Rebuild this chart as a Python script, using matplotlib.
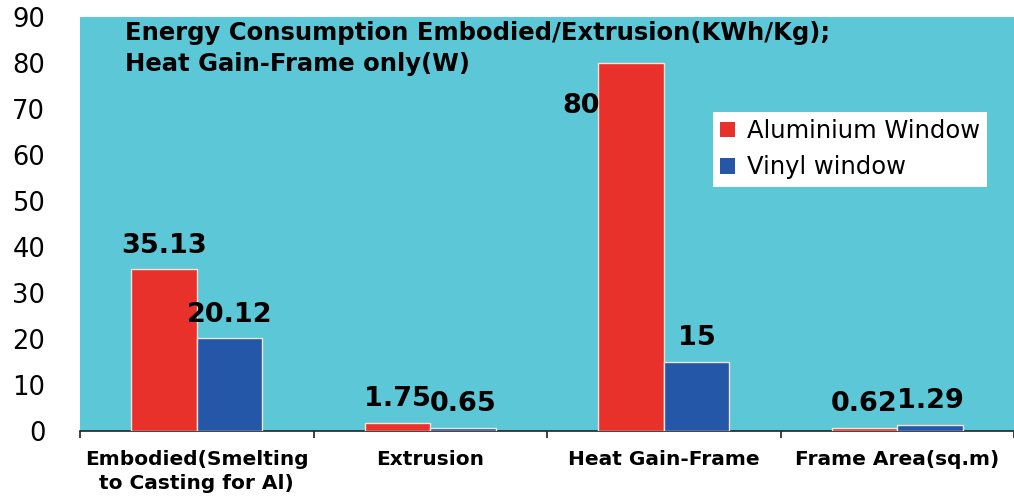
import numpy as np
import matplotlib
matplotlib.use("Agg")
import matplotlib.pyplot as plt
from matplotlib.patches import Patch

# chart data
categories = ["Embodied(Smelting\nto Casting for Al)", "Extrusion",
              "Heat Gain-Frame", "Frame Area(sq.m)"]
aluminium = [35.13, 1.75, 80, 0.62]
vinyl = [20.12, 0.65, 15, 1.29]
alu_labels = ["35.13", "1.75", "80", "0.62"]
vinyl_labels = ["20.12", "0.65", "15", "1.29"]
series_names = ["Aluminium Window", "Vinyl window"]
y_ticks = [0, 10, 20, 30, 40, 50, 60, 70, 80, 90]
note = "Energy Consumption Embodied/Extrusion(KWh/Kg);\nHeat Gain-Frame only(W)"

RED = "#e8312b"
BLUE = "#2457a7"
BG = "#5cc7d7"
EDGE = "#f4e4d8"

fig = plt.figure(figsize=(10.14, 4.98), dpi=100)
ax = fig.add_axes([80 / 1014, 67 / 498, 934 / 1014, 414 / 498])
ax.set_facecolor(BG)

x = np.arange(len(categories))
w = 0.28
bars_a = ax.bar(x - w / 2, aluminium, w, color=RED, edgecolor=EDGE, linewidth=1.0, zorder=3)
bars_v = ax.bar(x + w / 2, vinyl, w, color=BLUE, edgecolor=EDGE, linewidth=1.0, zorder=3)

ax.set_xlim(-0.5, 3.458)
ax.set_ylim(0, 90)

# value labels
lab_font = dict(fontsize=19.5, fontweight="bold", color="black", family="DejaVu Sans")
for i, b in enumerate(bars_a):
    if alu_labels[i] == "80":
        # this one sits beside the bar, not on top
        ax.annotate(alu_labels[i], (b.get_x(), b.get_height()), xytext=(1, -36),
                    textcoords="offset points", ha="right", va="baseline", **lab_font)
    else:
        ax.annotate(alu_labels[i], (b.get_x() + b.get_width() / 2, b.get_height()),
                    xytext=(0, 12), textcoords="offset points", ha="center",
                    va="baseline", **lab_font)
for i, b in enumerate(bars_v):
    ax.annotate(vinyl_labels[i], (b.get_x() + b.get_width() / 2, b.get_height()),
                xytext=(0, 12), textcoords="offset points", ha="center",
                va="baseline", **lab_font)

ax.text(45 / 934, 0.99, note, transform=ax.transAxes,
        fontsize=17.5, fontweight="bold", va="top", ha="left", linespacing=1.38)

# axes styling
for s in ["top", "right", "left"]:
    ax.spines[s].set_visible(False)
ax.spines["bottom"].set_color("#222222")
ax.spines["bottom"].set_linewidth(1.2)

ax.set_xticks(x)
ax.set_xticklabels(categories, fontsize=14.5, fontweight="bold", linespacing=1.3)
ax.set_xticks(np.arange(-0.5, 4, 1.0), minor=True)
ax.tick_params(axis="x", which="major", length=0, pad=14)
ax.tick_params(axis="x", which="minor", length=5, width=1.2, direction="out", color="#222222")

ax.set_yticks(y_ticks)
ax.set_yticklabels([str(v) for v in y_ticks], fontsize=18.5)
ax.tick_params(axis="y", length=0, pad=25)

handles = [Patch(facecolor=RED), Patch(facecolor=BLUE)]
leg = ax.legend(handles, series_names, loc="upper left",
                bbox_to_anchor=((713 - 80) / 934, (498 - 67 - 112) / 414),
                fontsize=17.5, frameon=True, fancybox=False, framealpha=1.0,
                edgecolor="white", handlelength=0.6, handleheight=0.6,
                handletextpad=0.5, borderpad=0.3, labelspacing=0.5,
                borderaxespad=0)
leg.get_frame().set_linewidth(0)

fig.savefig("out.png", dpi=100)
